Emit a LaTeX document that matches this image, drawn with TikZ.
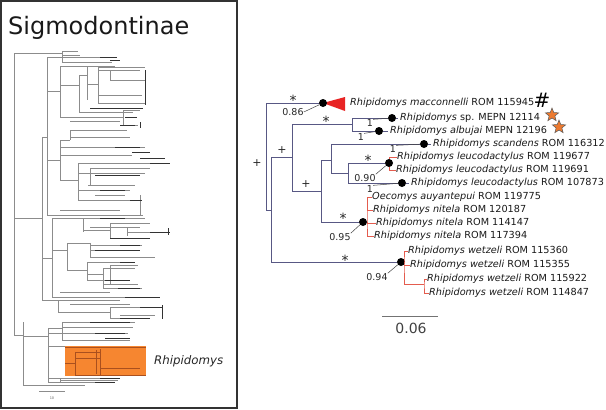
\documentclass[tikz,border=0pt]{standalone}
\usepackage{fontspec}
\setmainfont{DejaVu Sans}
\usetikzlibrary{shapes.geometric}
\definecolor{treeblue}{RGB}{88,88,132}
\definecolor{cladered}{RGB}{228,92,78}
\definecolor{wedgered}{RGB}{232,36,36}
\definecolor{starorange}{RGB}{236,122,48}
\definecolor{boxorange}{RGB}{246,134,48}
\definecolor{boxbrown}{RGB}{170,80,30}
\tikzset{
    tree/.style={draw=treeblue, line width=0.9pt},
    redtree/.style={draw=cladered, line width=0.8pt},
    bgtree/.style={draw=black!45, line width=0.35pt},
    bgtip/.style={draw=black!80, line width=0.7pt},
    intree/.style={draw=boxbrown, line width=0.6pt},
    clade/.style={circle, fill=black, inner sep=0pt, minimum size=8pt},
    taxon/.style={anchor=west, inner sep=0pt, text=black!90, font=\fontsize{9.7}{11}\selectfont},
    support/.style={inner sep=0pt, text=black!85, font=\fontsize{9.5}{11}\selectfont},
    posterior/.style={inner sep=0pt, text=black!85, font=\fontsize{14}{16}\selectfont, yshift=-3pt},
    cross/.style={inner sep=0pt, text=black!85, font=\fontsize{11}{13}\selectfont},
    leader/.style={draw=black!75, line width=0.5pt},
    starmark/.style={star, star points=5, star point ratio=2.3, minimum size=14pt, inner sep=0pt, fill=starorange, draw=black!65, line width=0.5pt}
}
\begin{document}
\begin{tikzpicture}[x=1pt,y=-1pt]
    \useasboundingbox (0,0) rectangle (606,410);
    \draw[line width=2pt, draw=black!80] (1,1) rectangle (237,408);
    \node[anchor=base west, inner sep=0pt, text=black!90, font=\fontsize{24}{28}\selectfont] (title) at (8,34) {Sigmodontinae};
    \foreach \y/\a/\b in {53/14/62, 51/62/78, 55/62/80, 57/47/117, 66/60/115, 85/60/79, 75/79/87, 84/87/98, 67/98/145, 103/98/145, 112/79/133, 117/60/123, 110/123/140, 125/123/138, 91/47/60,
        62/62/112, 70/98/140, 80/110/146, 95/98/142, 121/70/120,
        137/42/47, 130/70/127, 137/70/130, 140/60/70, 147/60/145, 155/60/132, 180/60/78, 163/78/162, 173/78/145, 190/78/130, 200/78/140, 160/47/60, 215/47/143,
        168/90/150, 185/88/135, 195/95/125, 210/60/120,
        218/14/42, 258/42/52, 218/52/145, 230/83/110, 223/110/150, 238/110/150, 232/127/167, 250/52/67, 243/67/90, 245/90/142, 250/90/140, 257/90/155, 270/67/87, 262/87/135, 280/87/130, 274/87/103, 268/103/135, 288/103/142, 297/52/160,
        227/90/140, 265/110/138, 284/103/138, 292/60/110,
        300/42/58, 300/58/120, 312/58/110, 307/110/162, 318/110/150, 304/70/130, 315/120/155,
        335/14/23, 336/23/48, 328/48/62, 322/62/135, 327/62/133, 340/62/130, 333/48/128, 346/48/146, 378/48/120, 382/48/115, 385/23/85, 380/60/118}
        \draw[bgtree] (\a,\y) -- (\b,\y);
    \foreach \x/\a/\b in {14/53/335, 62/51/62, 47/57/215, 60/66/117, 79/75/112, 87/67/100, 98/67/103, 123/110/125, 70/130/140, 60/140/180, 78/163/200, 140/195/215, 110/70/80,
        42/137/300, 52/218/297, 83/218/232, 110/223/238, 127/228/236, 67/243/270, 90/243/257, 87/262/280, 103/268/288, 58/300/312, 110/307/318, 90/168/185, 110/265/284,
        23/322/385, 48/328/382, 62/322/340, 60/378/382}
        \draw[bgtree] (\x,\a) -- (\x,\b);
    \foreach \x/\y/\l in {100/57/17, 110/60/10, 90/108/53, 125/117/12, 132/152/18, 140/158/25, 150/163/20, 95/175/45, 130/200/12, 100/218/25, 150/232/20,
        110/238/40, 95/250/45, 120/262/15, 105/280/25, 125/297/35, 140/307/22, 120/318/30, 105/338/25, 100/378/20, 95/382/20,
        120/125/15, 115/147/25, 100/190/25, 120/245/20, 118/288/22, 90/322/40, 95/333/30}
        \draw[bgtip] (\x,\y) -- ++(\l,0);
    \draw[bgtip, line width=0.4pt] (145,70) -- (145,105);
    \draw[bgtip, line width=0.4pt] (162,305) -- (162,319);
    \draw[bgtip, line width=0.4pt] (140,122) -- (140,128);
    \draw[bgtip, line width=0.4pt] (168,228) -- (168,235);
    \fill[boxorange] (65,346) rectangle (146,376);
    \foreach \y/\a/\b in {347/65/146, 352/75/100, 358/75/100, 363/65/75, 368/100/140, 375/75/146}
        \draw[intree] (\a,\y) -- (\b,\y);
    \foreach \x/\a/\b in {75/352/375, 100/349/375, 96/350/374}
        \draw[intree] (\x,\a) -- (\x,\b);
    \node[anchor=west, inner sep=0pt, text=black!85, font=\fontsize{11.8}{14}\selectfont\itshape] (rhip) at (154,361) {Rhipidomys};
    \draw[bgtree] (39,391) -- (65,391);
    \node[inner sep=0pt, text=black!60, font=\fontsize{3.5}{4}\selectfont] (bgscale) at (52,398) {10};

    \coordinate (root) at (266,157);
    \coordinate (nA) at (271,210);
    \coordinate (nB) at (292,157);
    \coordinate (nC) at (352,124);
    \coordinate (nD) at (321,191);
    \coordinate (nE) at (331,160);
    \coordinate (nF) at (348,173);
    \coordinate (dmac) at (323,103);
    \fill[wedgered] (dmac) -- (345,97) -- (345,111) -- cycle;
    \node[clade] (mac) at (dmac) {};
    \node[clade] (sp) at (392,118) {};
    \node[clade] (alb) at (379,131) {};
    \node[clade] (scan) at (424,144) {};
    \node[clade] (leu) at (389,163) {};
    \node[clade] (d873) at (402,183) {};
    \node[clade] (nit) at (363,222) {};
    \node[clade] (wet) at (401,262) {};
    \draw[tree] (root) |- (mac);
    \draw[tree] (root) |- (nA);
    \draw[tree] (nA) |- (nB);
    \draw[tree] (nA) |- (wet);
    \draw[tree] (nB) |- (nC);
    \draw[tree] (nB) |- (nD);
    \draw[tree] (nC) |- (sp);
    \draw[tree] (nC) |- (alb);
    \draw[tree] (nD) |- (nE);
    \draw[tree] (nD) |- (nit);
    \draw[tree] (nE) |- (scan);
    \draw[tree] (nE) |- (nF);
    \draw[tree] (nF) |- (leu);
    \draw[tree] (nF) |- (d873);

    \node[taxon] (tmac) at (350,103) {\textit{Rhipidomys macconnelli} ROM 115945};
    \node[taxon] (tsp) at (400,118) {\textit{Rhipidomys} sp. MEPN 12114};
    \node[taxon] (talb) at (390,131) {\textit{Rhipidomys albujai} MEPN 12196};
    \node[taxon] (tscan) at (433,144) {\textit{Rhipidomys scandens} ROM 116312};
    \node[taxon] (t677) at (397,157) {\textit{Rhipidomys leucodactylus} ROM 119677};
    \node[taxon] (t691) at (396,170) {\textit{Rhipidomys leucodactylus} ROM 119691};
    \node[taxon] (t873) at (411,183) {\textit{Rhipidomys leucodactylus} ROM 107873};
    \node[taxon] (toec) at (372,197) {\textit{Oecomys auyantepui} ROM 119775};
    \node[taxon] (t187) at (373,210) {\textit{Rhipidomys nitela} ROM 120187};
    \node[taxon] (t147) at (376,223) {\textit{Rhipidomys nitela} ROM 114147};
    \node[taxon] (t394) at (374,236) {\textit{Rhipidomys nitela} ROM 117394};
    \node[taxon] (t360) at (408,251) {\textit{Rhipidomys wetzeli} ROM 115360};
    \node[taxon] (t355) at (410,265) {\textit{Rhipidomys wetzeli} ROM 115355};
    \node[taxon] (t922) at (427,279) {\textit{Rhipidomys wetzeli} ROM 115922};
    \node[taxon] (t847) at (429,293) {\textit{Rhipidomys wetzeli} ROM 114847};
    \draw[tree, shorten >=2pt] (sp) -- (tsp.west);
    \draw[tree, shorten >=2pt] (alb) -- (talb.west);
    \draw[tree, shorten >=2pt] (scan) -- (tscan.west);
    \draw[tree, shorten >=2pt] (d873) -- (t873.west);

    \coordinate (nitv) at (367,222);
    \coordinate (wetv) at (404,262);
    \coordinate (wetsub) at (424,284);
    \draw[redtree] (t677.west) -| (leu) |- (t691.west);
    \draw[redtree] (nit) -- (nitv);
    \draw[redtree] (toec.west) -| (nitv) |- (t394.west);
    \draw[redtree] (t187.west) -- (t187.west -| nitv);
    \draw[redtree] (t147.west) -- (t147.west -| nitv);
    \draw[redtree] (wet) -- (wetv);
    \draw[redtree] (t360.west) -| (wetv) |- (wetsub);
    \draw[redtree] (t355.west) -- (t355.west -| wetv);
    \draw[redtree] (t922.west) -| (wetsub) |- (t847.west);

    \node[posterior] (smac) at (293,97) {*};
    \node[support] (pmac) at (293,112) {0.86};
    \node[posterior] (sC) at (326,118) {*};
    \node[support] (psp) at (370,123) {1};
    \node[support] (palb) at (361,137) {1};
    \node[cross] (sroot) at (257,163) {+};
    \node[cross] (sB) at (282,150) {+};
    \node[cross] (sD) at (306,184) {+};
    \node[support] (pscan) at (393,149) {1};
    \node[posterior] (sleu) at (368,157) {*};
    \node[support] (pleu) at (365,178) {0.90};
    \node[support] (p873) at (370,189) {1};
    \node[posterior] (snit) at (343,215) {*};
    \node[support] (pnit) at (340,237) {0.95};
    \node[posterior] (swet) at (345,257) {*};
    \node[support] (pwet) at (377,277) {0.94};
    \draw[leader] (pmac.east) -- (mac);
    \draw[leader] (psp.north east) -- (sp);
    \draw[leader] (palb.north east) -- (alb);
    \draw[leader] (pscan.north east) -- (scan);
    \draw[leader] (pleu.north east) -- (leu);
    \draw[leader] (p873.north east) -- (d873);
    \draw[leader] (pnit.north east) -- (nit);
    \draw[leader] (pwet.north east) -- (wet);

    \node[inner sep=0pt, font=\fontsize{20}{22}\selectfont] (hash) at (542,100) {\#};
    \node[starmark] (star1) at (552,115) {};
    \node[starmark] (star2) at (559,127) {};

    \coordinate (sbl) at (382,316);
    \coordinate (sbr) at (438,316);
    \draw[draw=black!55, line width=0.8pt] (sbl) -- (sbr);
    \node[inner sep=0pt, text=black!75, font=\fontsize{14}{16}\selectfont] (sbtext) at (411,328) {0.06};
\end{tikzpicture}
\end{document}
